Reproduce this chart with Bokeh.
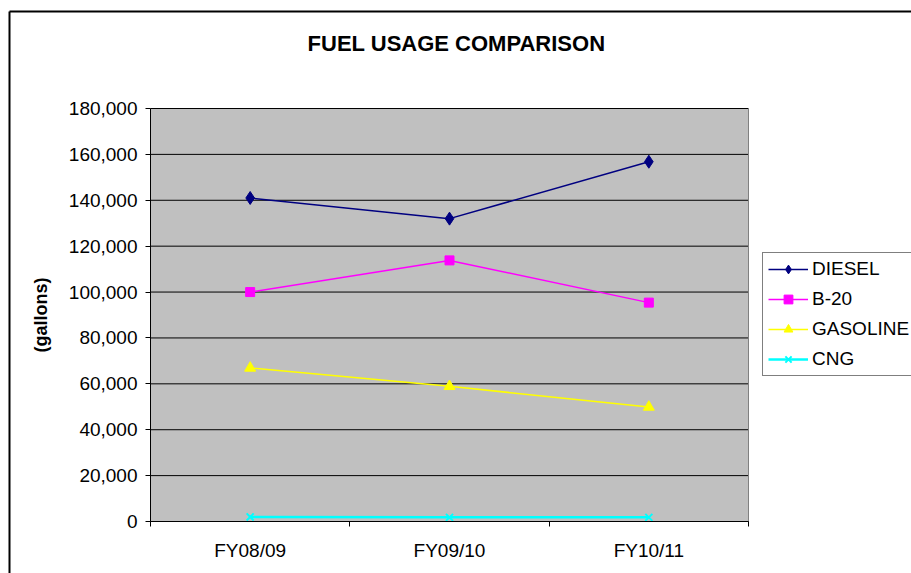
from bokeh.plotting import figure
from bokeh.models import Range1d, FixedTicker, NumeralTickFormatter, Legend, Label
from bokeh.embed import file_html
from bokeh.resources import INLINE

categories = ["FY08/09", "FY09/10", "FY10/11"]
diesel = [141000, 132000, 156800]
b20 = [100000, 113800, 95400]
gasoline = [66900, 58900, 49900]
cng = [2000, 1800, 1800]
y_ticks = [0, 20000, 40000, 60000, 80000, 100000, 120000, 140000, 160000, 180000]
y_top = 180000

FONT = "Liberation Sans"

# layout in canvas pixels
W, H = 911, 573
PLOT_L, PLOT_R, PLOT_T, PLOT_B = 150, 748, 108, 521
BORDER_X, BORDER_Y = 9, 11
n = len(categories)
px_per_cat = (PLOT_R - PLOT_L) / n
px_per_val = (PLOT_B - PLOT_T) / y_top


def xval(px):
    return (px - PLOT_L) / px_per_cat


def yval(py):
    return (PLOT_B - py) / px_per_val


xs = [i + 0.5 for i in range(n)]

# the frame covers the whole canvas; axes are pinned at the plot area's edges
p = figure(width=W, height=H, output_backend="svg", toolbar_location=None,
           x_range=Range1d(xval(0), xval(W)), y_range=Range1d(yval(H), yval(0)),
           min_border=0)
p.background_fill_color = "white"
p.border_fill_color = "white"
p.outline_line_color = None

# outer chart border (left and top edges)
p.segment(x0=[xval(BORDER_X), xval(BORDER_X)], x1=[xval(BORDER_X), xval(W + 5)],
          y0=[yval(H + 5), yval(BORDER_Y)], y1=[yval(BORDER_Y), yval(BORDER_Y)],
          line_color="black", line_width=2)

# gray plot area, grid lines and right edge
p.quad(left=[0], right=[n], bottom=[0], top=[y_top], fill_color="#C0C0C0", line_color=None)
p.segment(x0=[0] * len(y_ticks), x1=[n] * len(y_ticks), y0=y_ticks, y1=y_ticks,
          line_color="black", line_width=1)
p.segment(x0=[n], x1=[n], y0=[0], y1=[y_top], line_color="#808080", line_width=1)

# x axis: ticks at category boundaries, labels at centers
p.xaxis.fixed_location = 0
p.xaxis.bounds = (0, n)
p.xaxis.ticker = FixedTicker(ticks=xs, minor_ticks=list(range(n + 1)))
p.xaxis.major_label_overrides = {x: c for x, c in zip(xs, categories)}
p.xaxis.major_tick_line_color = None
p.xaxis.minor_tick_line_color = "black"
p.xaxis.minor_tick_out = 5
p.xaxis.minor_tick_in = 0
p.xaxis.major_label_standoff = 12
p.xaxis.major_label_text_font = FONT
p.xaxis.major_label_text_font_size = "19px"
p.xaxis.major_label_text_color = "black"
p.xaxis.axis_line_color = "black"
p.xgrid.grid_line_color = None
p.ygrid.grid_line_color = None

p.yaxis.fixed_location = 0
p.yaxis.bounds = (0, y_top)
p.yaxis.ticker = FixedTicker(ticks=y_ticks)
p.yaxis.formatter = NumeralTickFormatter(format="0,0")
p.yaxis.major_tick_out = 5
p.yaxis.major_tick_in = 0
p.yaxis.minor_tick_line_color = None
p.yaxis.major_label_standoff = 8
p.yaxis.major_label_text_font = FONT
p.yaxis.major_label_text_font_size = "19px"
p.yaxis.major_label_text_color = "black"
p.yaxis.axis_line_color = "black"
p.yaxis.axis_label = "(gallons)"
p.yaxis.axis_label_text_font = FONT
p.yaxis.axis_label_text_font_style = "bold"
p.yaxis.axis_label_text_font_size = "18px"
p.yaxis.axis_label_text_color = "black"
p.yaxis.axis_label_standoff = 15

series = [
    ("DIESEL", diesel, "#000080", "diamond", 13, 1.5),
    ("B-20", b20, "#FF00FF", "square", 9, 1.5),
    ("GASOLINE", gasoline, "#FFFF00", "triangle", 11, 1.5),
    ("CNG", cng, "#00FFFF", "x", 10, 2.5),
]
items = []
for name, vals, color, marker, size, lw in series:
    r1 = p.line(xs, vals, line_color=color, line_width=lw)
    r2 = p.scatter(xs, vals, marker=marker, size=size, fill_color=color,
                   line_color=color, line_width=2 if marker == "x" else 1)
    items.append((name, [r1, r2]))

legend = Legend(items=items, location=(762, H - 376), orientation="vertical",
                label_text_font=FONT, label_text_font_size="19px", label_text_color="black",
                glyph_width=40, glyph_height=22, label_height=22, spacing=8,
                padding=5, margin=0, label_standoff=4,
                border_line_color="black", border_line_width=1,
                background_fill_color="white", background_fill_alpha=1)
p.add_layout(legend, "center")

title = Label(x=456, y=H - 43, x_units="screen", y_units="screen",
              text="FUEL USAGE COMPARISON", text_align="center", text_baseline="middle",
              text_font=FONT, text_font_style="bold", text_font_size="22px", text_color="black")
p.add_layout(title)

open("out.html", "w").write(file_html(p, INLINE))
